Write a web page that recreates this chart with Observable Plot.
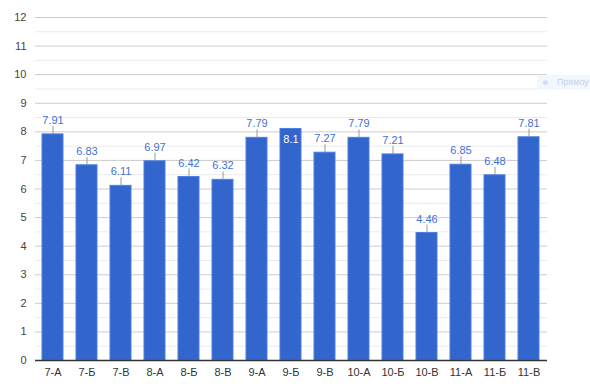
<!DOCTYPE html>
<html><head><meta charset="utf-8">
<script src="https://cdn.jsdelivr.net/npm/d3@7"></script>
<script src="https://cdn.jsdelivr.net/npm/@observablehq/plot@0.6"></script>
<style>
body{margin:0;background:#fff;}
#wrap{position:relative;width:590px;height:389px;overflow:hidden;}
#tip{position:absolute;left:537px;top:75px;width:53px;height:15px;background:#f2f7fe;font:9px Arial,sans-serif;color:#c6d2e6;white-space:nowrap;overflow:hidden;line-height:15px;}
</style>
</head><body>
<div id="wrap"><div id="tip"><span style="display:inline-block;width:5px;height:5px;border-radius:3px;background:#d4def0;margin:0 9px 0 6px;vertical-align:middle"></span>Прямоу</div></div>
<script>
const classes = ["7-А","7-Б","7-В","8-А","8-Б","8-В","9-А","9-Б","9-В","10-А","10-Б","10-В","11-А","11-Б","11-В"];
const scores = [7.91,6.83,6.11,6.97,6.42,6.32,7.79,8.1,7.27,7.79,7.21,4.46,6.85,6.48,7.81];
const majorTicks = [0,1,2,3,4,5,6,7,8,9,10,11,12];
const minorTicks = [0.5,1.5,2.5,3.5,4.5,5.5,6.5,7.5,8.5,9.5,10.5,11.5];

const data = classes.map((c,i)=>({c, v: scores[i]}));
const outside = data.filter(d => d.v < 8);
const inside = data.filter(d => d.v >= 8);

const chart = Plot.plot({
  width: 590, height: 389,
  marginLeft: 35, marginRight: 43, marginTop: 17, marginBottom: 29,
  style: {fontFamily: "Arial, 'Liberation Sans', sans-serif", fontSize: "11px", color: "#444", background: "transparent"},
  x: {domain: classes, paddingInner: 0.38, paddingOuter: 0.2, label: null},
  y: {domain: [0, 12], label: null},
  marks: [
    Plot.ruleY(minorTicks, {stroke: "#ebebeb", strokeWidth: 1}),
    Plot.ruleY(majorTicks, {stroke: "#cccccc", strokeWidth: 1}),
    Plot.barY(data, {x: "c", y: "v", fill: "#3366cc", stroke: "#4c7fe0", strokeWidth: 1}),
    Plot.ruleX(outside, {x: "c", y1: "v", y2: "v", stroke: "#999", strokeWidth: 1, insetTop: -8}),
    Plot.text(outside, {x: "c", y: "v", text: d => String(d.v), dy: -14, fill: "#3f6fd6", fontSize: 11}),
    Plot.text(inside, {x: "c", y: "v", text: d => String(d.v), dy: 10, fill: "#ffffff", fontSize: 11}),
    Plot.ruleY([0], {stroke: "#333", strokeWidth: 1.5}),
    Plot.axisY({ticks: majorTicks, tickSize: 0, tickPadding: 9, tickFormat: d => String(d), fill: "#444", label: null}),
    Plot.axisX({tickSize: 0, tickPadding: 8, fill: "#333", label: null})
  ]
});
document.getElementById("wrap").prepend(chart);
chart.style.position = "absolute"; chart.style.left = "0"; chart.style.top = "0";
</script>
</body></html>
